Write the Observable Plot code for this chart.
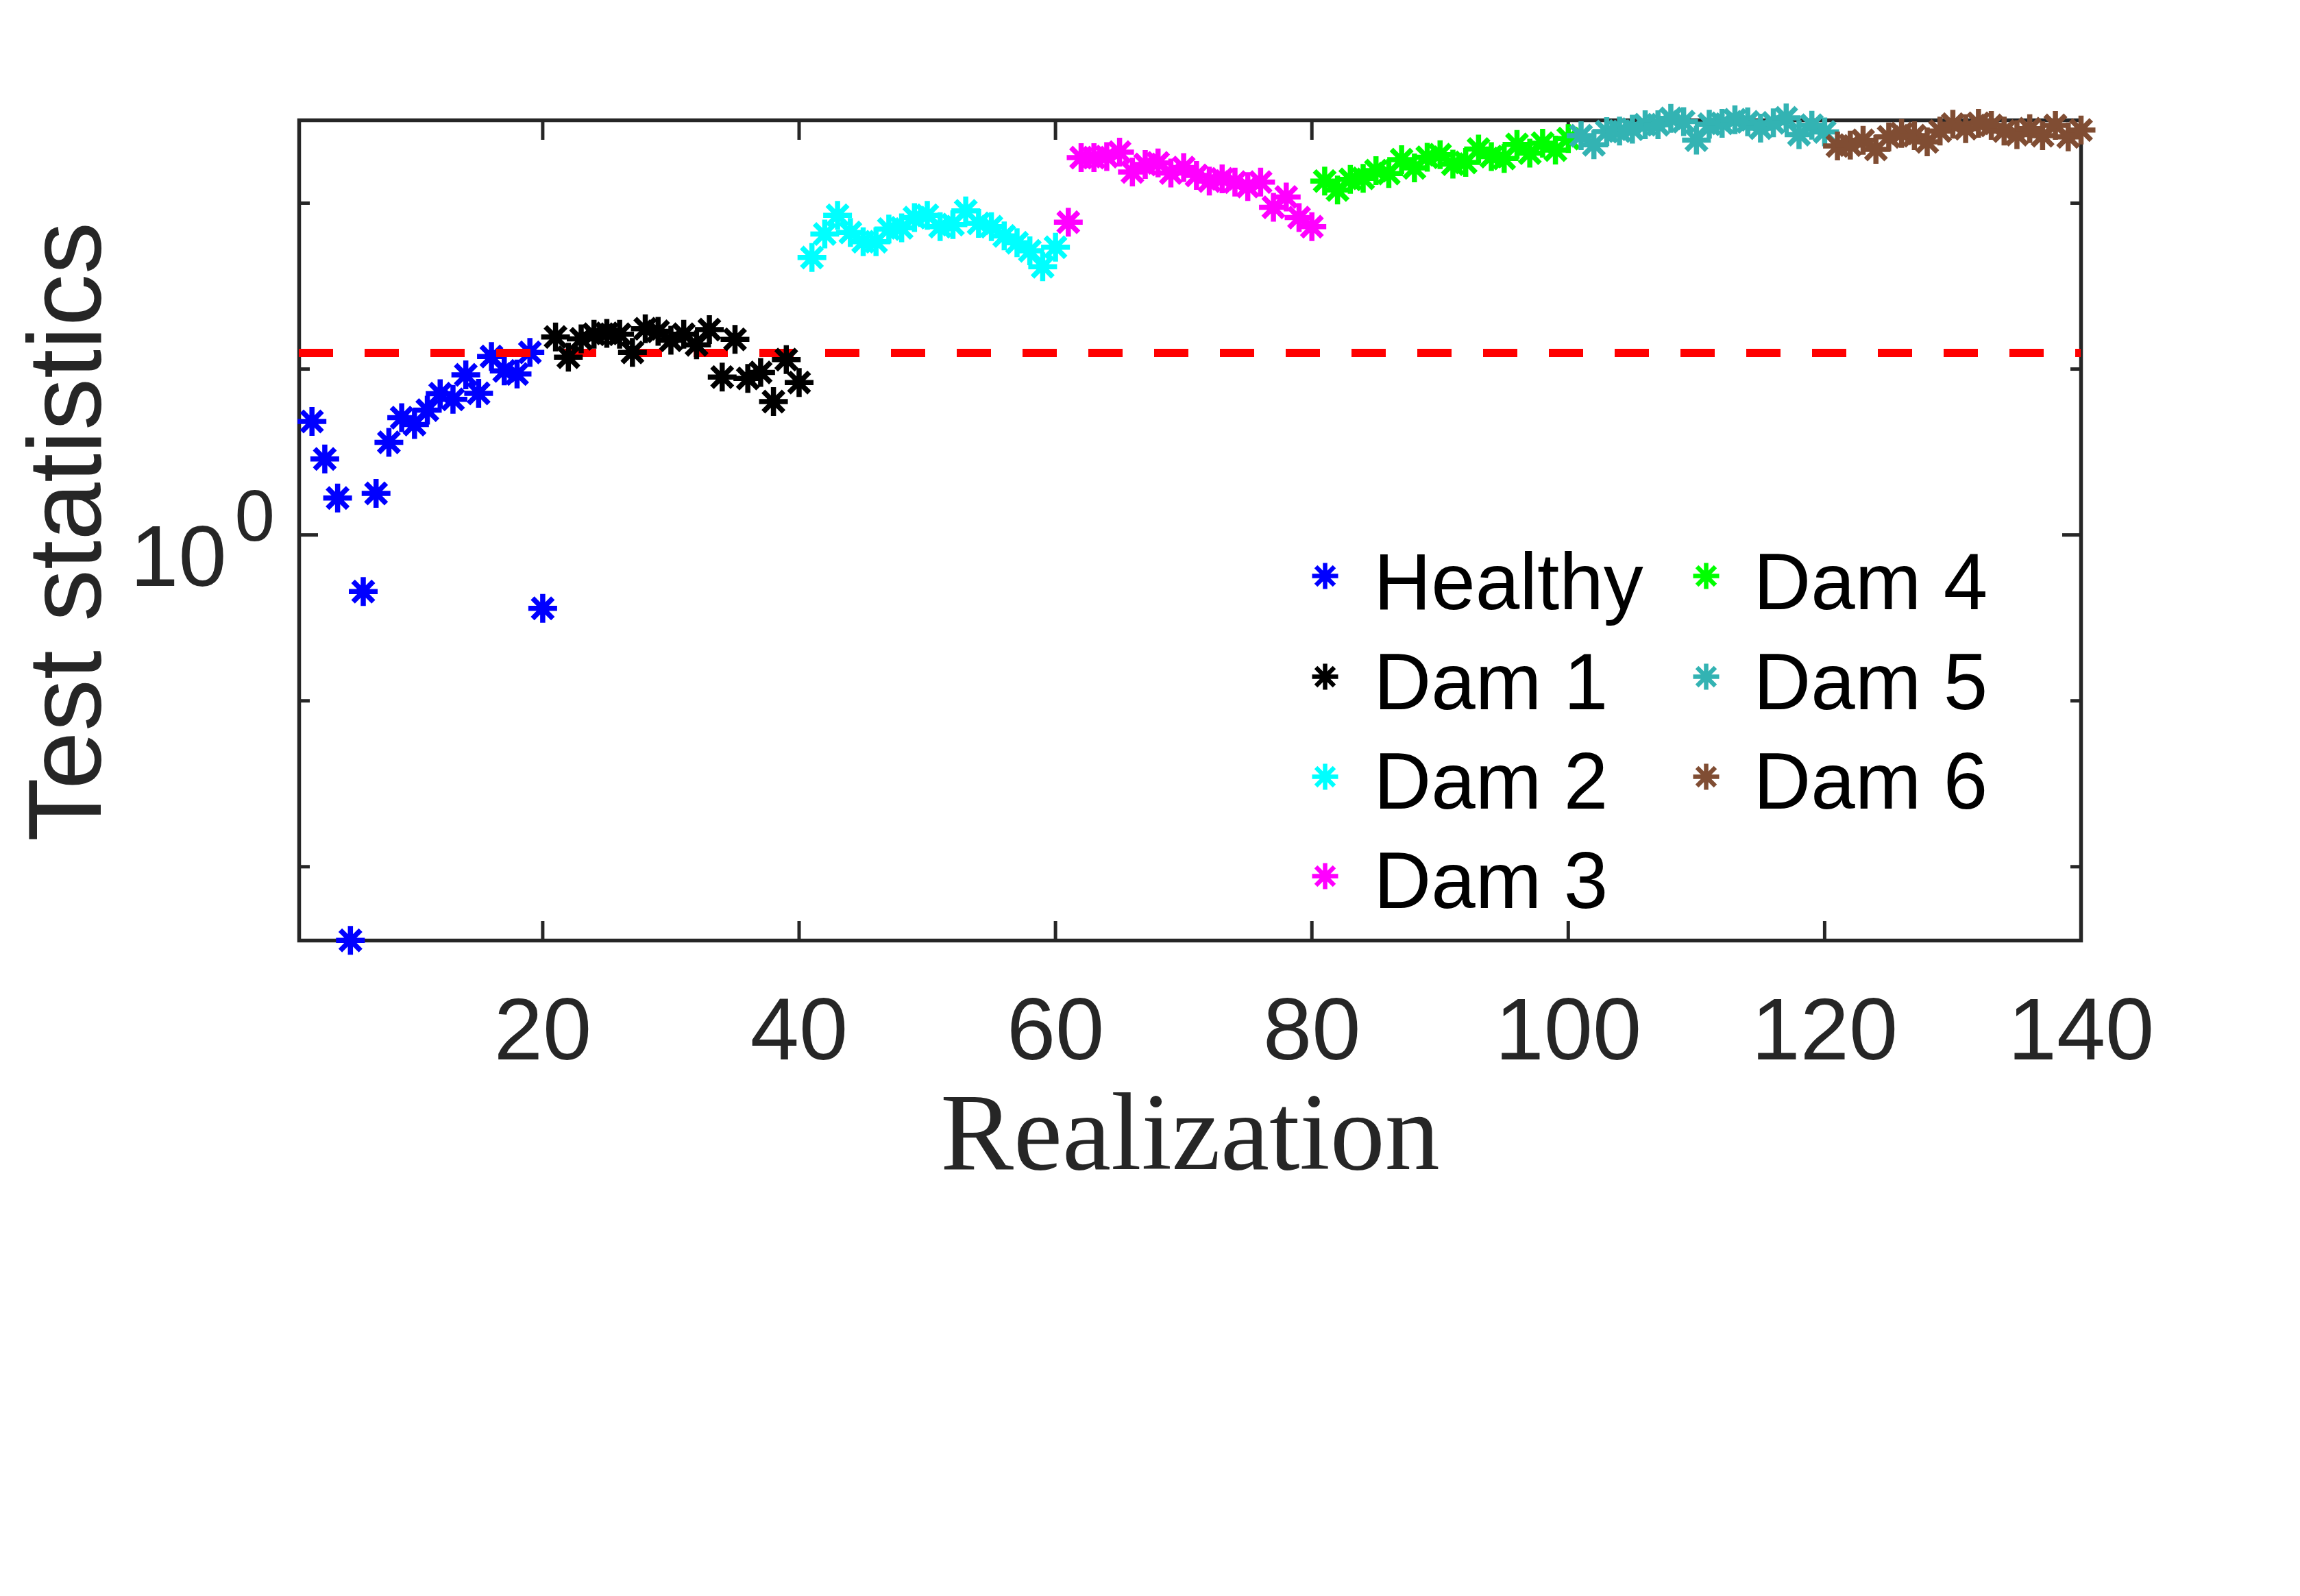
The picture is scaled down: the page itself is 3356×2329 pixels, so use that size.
<!DOCTYPE html>
<html>
<head>
<meta charset="utf-8">
<script src="https://cdn.jsdelivr.net/npm/d3@7"></script>
<script src="https://cdn.jsdelivr.net/npm/@observablehq/plot@0.6"></script>
<style>
  html, body { margin: 0; padding: 0; background: #ffffff; }
  #chart svg { display: block; }
</style>
</head>
<body>
<div id="chart"></div>
<script>
// ---- data ----
const groups = ["Healthy", "Dam 1", "Dam 2", "Dam 3", "Dam 4", "Dam 5", "Dam 6"];
const groupColors = ["#0000FF", "#000000", "#00FFFF", "#FF00FF", "#00FF00", "#33B3B3", "#804D33"];
// first realization index of each group
const firstRealization = [2, 21, 41, 61, 81, 101, 121];

const healthy = [4.83, 2.87, 1.67, 0.0036, 0.456, 1.78, 3.62, 5.09, 4.63, 5.66,
                 7.10, 6.56, 9.23, 7.14, 11.9, 9.75, 9.33, 12.6, 0.361];
const dam1 = [15.6, 11.8, 15.2, 16.2, 16.4, 16.2, 12.6, 17.5, 16.9, 14.9,
              16.2, 14.0, 17.3, 8.95, 15.1, 8.77, 9.55, 6.37, 11.4, 8.30];
const dam2 = [47.0, 65.2, 84.5, 66.5, 58.6, 58.6, 69.8, 71.0, 81.8, 84.5,
              72.1, 74.3, 89.9, 75.5, 72.1, 63.5, 57.7, 51.6, 41.4, 54.2];
const dam3 = [76.7, 188, 188, 191, 203, 154, 171, 175, 152, 164,
              147, 136, 140, 134, 126, 134, 94.4, 109, 81.8, 72.1];
const dam4 = [136, 120, 139, 141, 157, 151, 183, 163, 189, 196,
              172, 176, 212, 191, 186, 226, 200, 230, 209, 245];
const dam5 = [255, 225, 270, 272, 279, 297, 297, 324, 310, 240,
              299, 303, 318, 309, 283, 305, 327, 259, 295, 269];
const dam6 = [221, 224, 239, 211, 251, 263, 255, 234, 272, 299,
              281, 303, 294, 272, 259, 281, 255, 294, 251, 276];
const groupValues = [healthy, dam1, dam2, dam3, dam4, dam5, dam6];

const threshold = 12.5;
const xTicks = [20, 40, 60, 80, 100, 120, 140];
const yMajorTicks = [1];
const yMinorTicks = [0.01, 0.1, 10, 100];
const xDomain = [1, 140];
const yDomain = [0.00359, 316];

// ---- build table ----
const points = groups.flatMap((g, gi) =>
  groupValues[gi].map((v, i) => ({x: firstRealization[gi] + i, y: v, group: g}))
);

// MATLAB-style '*' marker: plus + cross, 8 equal arms
const asterisk8 = {
  draw(context, size) {
    const r = Math.sqrt(size / Math.PI);
    const d = r * Math.SQRT1_2;
    context.moveTo(0, -r); context.lineTo(0, r);
    context.moveTo(-r, 0); context.lineTo(r, 0);
    context.moveTo(-d, -d); context.lineTo(d, d);
    context.moveTo(-d, d); context.lineTo(d, -d);
  }
};

const W = 3356, H = 2329;
const mL = 436, mR = 320, mT = 175, mB = 957;
const sans = "'Liberation Sans', Arial, Helvetica, sans-serif";
const axisColor = "#262626";
const markerR = 21, markerSW = 7.5;

const dotOpts = {
  x: "x", y: "y", stroke: "group", fill: "none",
  symbol: asterisk8, r: markerR, strokeWidth: markerSW, strokeLinecap: "butt"
};

// legend marks
const legendMarks = [];
const legMarkerX = [1933, 2489], legTextX = [2004, 2558];
const legMarkerY = [840, 987, 1133, 1278], legBaseY = [888, 1034, 1179, 1324];
groups.forEach((g, i) => {
  const col = i < 4 ? 0 : 1, row = i < 4 ? i : i - 4;
  legendMarks.push(Plot.dot([g], {
    x: null, y: null, frameAnchor: "top-left",
    dx: legMarkerX[col] - mL, dy: legMarkerY[row] - mT,
    symbol: asterisk8, r: 19, stroke: groupColors[i], fill: "none",
    strokeWidth: 6.5, strokeLinecap: "butt"
  }));
  legendMarks.push(Plot.text([g], {
    x: null, y: null, frameAnchor: "top-left", text: d => d,
    dx: legTextX[col] - mL, dy: legBaseY[row] - mT,
    textAnchor: "start", lineAnchor: "bottom",
    fontSize: 116, fontFamily: sans, fill: "#000000"
  }));
});

const tickCommon = {label: null, tickFormat: () => "", stroke: axisColor, strokeWidth: 5, fontSize: 1};

const chart = Plot.plot({
  width: W, height: H,
  marginLeft: mL, marginRight: mR, marginTop: mT, marginBottom: mB,
  style: {background: "#ffffff", fontFamily: sans},
  x: {domain: xDomain, axis: null},
  y: {type: "log", domain: yDomain, axis: null},
  color: {domain: groups, range: groupColors},
  marks: [
    Plot.frame({stroke: axisColor, strokeWidth: 5.5}),
    // inward ticks on all four sides
    Plot.axisX(xTicks, {anchor: "bottom", tickSize: 28, dy: -28, ...tickCommon}),
    Plot.axisX(xTicks, {anchor: "top", tickSize: 28, dy: 28, ...tickCommon}),
    Plot.axisY(yMajorTicks, {anchor: "left", tickSize: 28, dx: 28, ...tickCommon}),
    Plot.axisY(yMinorTicks, {anchor: "left", tickSize: 16, dx: 16, ...tickCommon}),
    Plot.axisY(yMajorTicks, {anchor: "right", tickSize: 28, dx: -28, ...tickCommon}),
    Plot.axisY(yMinorTicks, {anchor: "right", tickSize: 16, dx: -16, ...tickCommon}),
    // healthy first, then threshold, then damaged cases
    Plot.dot(points.filter(d => d.group === "Healthy"), dotOpts),
    Plot.ruleY([threshold], {stroke: "#FF0000", strokeWidth: 12, strokeDasharray: "50,46"}),
    Plot.dot(points.filter(d => d.group !== "Healthy"), dotOpts),
    // x tick labels
    Plot.text(xTicks, {
      x: d => d, frameAnchor: "bottom", text: d => String(d),
      dy: 173, lineAnchor: "bottom", textAnchor: "middle",
      fontSize: 128, fontFamily: sans, fill: axisColor
    }),
    // y tick label 10^0
    Plot.text(yMajorTicks, {
      y: d => d, frameAnchor: "left", text: () => "10",
      dx: -106, dy: 74, lineAnchor: "bottom", textAnchor: "end",
      fontSize: 126, fontFamily: sans, fill: axisColor
    }),
    Plot.text(yMajorTicks, {
      y: d => d, frameAnchor: "left", text: () => "0",
      dx: -94, dy: 8, lineAnchor: "bottom", textAnchor: "start",
      fontSize: 105, fontFamily: sans, fill: axisColor
    }),
    // axis titles
    Plot.text(["Test statistics"], {
      x: null, y: null, frameAnchor: "left", text: d => d, rotate: -90,
      dx: -290, dy: 2, lineAnchor: "bottom", textAnchor: "middle",
      fontSize: 152, fontFamily: sans, fill: axisColor
    }),
    Plot.text(["Realization"], {
      x: null, y: null, frameAnchor: "bottom", text: d => d,
      dy: 333, lineAnchor: "bottom", textAnchor: "middle",
      fontSize: 160, fontFamily: "'Liberation Serif', 'DejaVu Serif', serif", fill: axisColor
    }),
    ...legendMarks
  ]
});

document.getElementById("chart").appendChild(chart);
</script>
</body>
</html>
